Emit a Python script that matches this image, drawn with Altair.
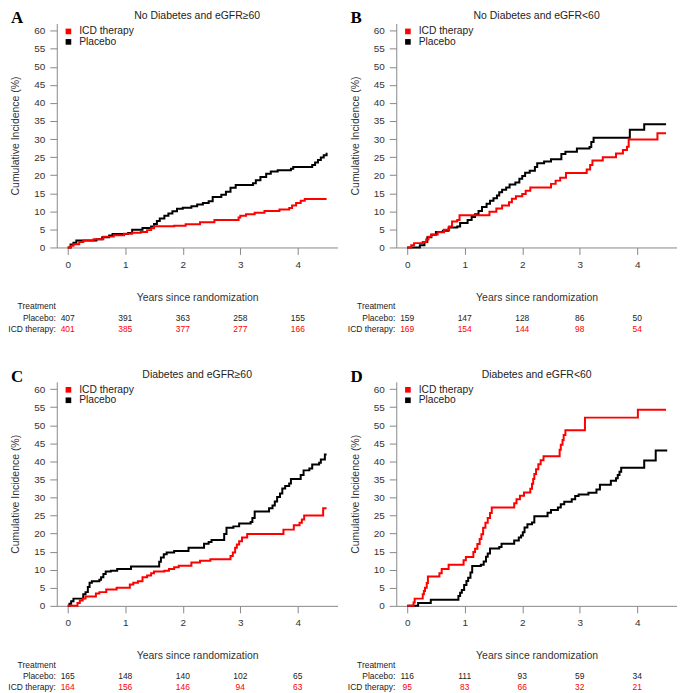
import altair as alt
import pandas as pd

# ---------------- data ----------------
YEARS = [0, 1, 2, 3, 4]
Y_TICKS = [0, 5, 10, 15, 20, 25, 30, 35, 40, 45, 50, 55, 60]

# Panel A: No Diabetes and eGFR>=60
A_PLC_T = [0, 0.05, 0.1, 0.15, 0.5, 0.6, 0.72, 0.78, 1.05, 1.12, 1.3, 1.45, 1.5, 1.55, 1.6, 1.68,
           1.75, 1.82, 1.9, 2.0, 2.15, 2.25, 2.35, 2.45, 2.52, 2.67, 2.75, 2.83, 2.92, 3.22, 3.27,
           3.35, 3.45, 3.53, 3.65, 3.88, 3.92, 4.25, 4.3, 4.35, 4.4, 4.45, 4.5]
A_PLC_V = [0, 0.8, 1.3, 1.9, 2.3, 2.8, 3.3, 3.7, 4.0, 4.9, 5.4, 5.8, 6.5, 7.3, 8.0, 8.8,
           9.4, 10.0, 10.7, 11.0, 11.4, 11.9, 12.3, 12.8, 14.0, 14.6, 15.4, 16.5, 17.3, 17.8, 18.6,
           19.5, 20.4, 21.0, 21.4, 21.8, 22.3, 22.8, 23.5, 24.2, 24.9, 25.5, 26.2]
A_ICD_T = [0, 0.05, 0.1, 0.2, 0.27, 0.45, 0.62, 0.8, 0.98, 1.12, 1.27, 1.38, 1.45, 1.5, 1.85,
           2.05, 2.3, 2.55, 2.97, 3.0, 3.1, 3.25, 3.42, 3.68, 3.85, 3.9, 3.97, 4.05, 4.12, 4.5]
A_ICD_V = [0, 0.5, 0.9, 1.5, 1.9, 2.3, 3.0, 3.4, 3.8, 4.1, 4.3, 4.8, 5.3, 5.9, 6.0,
           6.4, 7.0, 7.6, 8.3, 8.8, 9.2, 9.6, 10.1, 10.5, 10.9, 11.6, 12.3, 12.9, 13.4, 13.4]
A_PLC_N = [407, 391, 363, 258, 155]
A_ICD_N = [401, 385, 377, 277, 166]

# Panel B: No Diabetes and eGFR<60
B_PLC_T = [0, 0.22, 0.3, 0.35, 0.42, 0.5, 0.62, 0.72, 0.87, 0.92, 1.05, 1.12, 1.18, 1.24, 1.3,
           1.38, 1.44, 1.5, 1.56, 1.6, 1.65, 1.72, 1.78, 1.88, 1.95, 2.0, 2.05, 2.13, 2.22, 2.26,
           2.38, 2.5, 2.68, 2.75, 2.95, 3.17, 3.2, 3.24, 3.87, 4.12, 4.5]
B_PLC_V = [0, 0.6, 1.5, 2.8, 3.5, 4.3, 4.6, 5.5, 5.8, 6.8, 7.6, 8.4, 9.2, 10.1, 11.2,
           12.1, 12.9, 13.6, 14.4, 15.3, 16.0, 16.6, 17.4, 18.0, 19.0, 19.8, 20.7, 21.2, 22.3, 23.3,
           23.8, 24.4, 25.9, 26.5, 27.4, 27.8, 29.2, 30.4, 32.6, 34.1, 34.1]
B_ICD_T = [0, 0.07, 0.12, 0.27, 0.33, 0.37, 0.42, 0.53, 0.64, 0.73, 0.78, 0.87, 0.91, 1.43, 1.55,
           1.65, 1.77, 1.82, 1.89, 2.0, 2.06, 2.14, 2.5, 2.58, 2.66, 2.76, 3.12, 3.18, 3.22, 3.4,
           3.63, 3.75, 3.82, 3.85, 4.35, 4.5]
B_ICD_V = [0, 0.6, 1.2, 1.5, 2.2, 3.0, 3.6, 4.2, 4.9, 5.8, 7.2, 7.6, 8.9, 9.9, 10.8,
           11.6, 12.5, 13.5, 14.2, 14.8, 15.7, 16.6, 17.6, 18.5, 19.3, 20.6, 21.6, 22.8, 24.1, 25.0,
           26.0, 27.0, 27.9, 29.9, 31.6, 31.6]
B_PLC_N = [159, 147, 128, 86, 50]
B_ICD_N = [169, 154, 144, 98, 54]

# Panel C: Diabetes and eGFR>=60
C_PLC_T = [0, 0.03, 0.06, 0.1, 0.27, 0.31, 0.35, 0.38, 0.42, 0.55, 0.58, 0.62, 0.66, 0.75, 0.86,
           1.1, 1.59, 1.62, 1.67, 1.72, 1.85, 2.1, 2.37, 2.45, 2.5, 2.72, 2.76, 2.88, 2.98, 3.18,
           3.21, 3.25, 3.5, 3.56, 3.6, 3.64, 3.69, 3.73, 3.78, 3.85, 3.88, 4.05, 4.1, 4.2, 4.25,
           4.37, 4.4, 4.47, 4.5]
C_PLC_V = [0, 0.6, 1.3, 2.0, 3.2, 3.8, 5.2, 6.4, 6.8, 7.2, 7.9, 8.8, 9.5, 9.7, 10.2,
           10.9, 12.2, 13.4, 14.3, 14.8, 15.2, 16.1, 17.2, 17.7, 18.2, 19.9, 21.6, 22.0, 22.8, 23.2,
           24.3, 26.1, 27.0, 27.8, 28.9, 30.1, 31.1, 32.5, 33.2, 33.9, 35.1, 36.2, 37.5, 38.0, 39.1,
           39.6, 40.5, 41.9, 41.9]
C_ICD_T = [0, 0.17, 0.21, 0.26, 0.31, 0.49, 0.55, 0.67, 0.85, 1.08, 1.14, 1.22, 1.3, 1.38, 1.45,
           1.5, 1.68, 1.76, 1.85, 1.93, 2.15, 2.3, 2.48, 2.83, 2.87, 2.91, 2.94, 2.98, 3.03, 3.12,
           3.75, 3.93, 4.03, 4.07, 4.11, 4.44, 4.5]
C_ICD_V = [0, 0.8, 1.5, 2.0, 2.6, 3.4, 3.8, 4.5, 5.0, 5.9, 6.4, 6.8, 7.9, 8.4, 9.0,
           9.5, 9.7, 10.2, 10.7, 11.1, 12.0, 12.5, 12.9, 13.8, 14.8, 16.1, 17.0, 17.9, 18.9, 19.9,
           21.1, 22.3, 23.0, 23.9, 25.0, 27.0, 27.0]
C_PLC_N = [165, 148, 140, 102, 65]
C_ICD_N = [164, 156, 146, 94, 63]

# Panel D: Diabetes and eGFR<60
D_PLC_T = [0, 0.19, 0.41, 0.89, 0.92, 0.95, 0.99, 1.03, 1.06, 1.1, 1.13, 1.28, 1.33, 1.37, 1.4,
           1.44, 1.6, 1.64, 1.86, 1.94, 1.98, 2.01, 2.04, 2.09, 2.17, 2.21, 2.44, 2.5, 2.62, 2.67,
           2.73, 2.86, 2.92, 2.98, 3.15, 3.29, 3.35, 3.54, 3.63, 3.66, 3.69, 3.72, 4.12, 4.32, 4.52]
D_PLC_V = [0, 0.8, 1.7, 2.7, 3.6, 4.4, 5.8, 6.9, 7.8, 9.2, 11.0, 11.4, 12.3, 13.6, 14.5,
           15.9, 16.3, 17.2, 18.1, 18.9, 19.5, 20.4, 21.7, 22.6, 23.1, 24.8, 25.8, 26.5, 27.2, 28.1,
           28.8, 29.5, 30.4, 30.8, 31.3, 32.2, 33.5, 34.6, 35.3, 36.2, 37.1, 38.2, 40.2, 43.0, 43.0]
D_ICD_T = [0, 0.11, 0.13, 0.27, 0.29, 0.31, 0.34, 0.36, 0.56, 0.6, 0.72, 0.98, 1.02, 1.15, 1.18,
           1.22, 1.26, 1.29, 1.32, 1.36, 1.4, 1.44, 1.47, 1.86, 1.9, 1.96, 2.03, 2.14, 2.17, 2.19,
           2.21, 2.24, 2.28, 2.32, 2.37, 2.65, 2.67, 2.7, 2.72, 2.75, 3.09, 4.01, 4.5]
D_ICD_V = [0, 0.9, 2.0, 3.2, 4.1, 5.0, 6.3, 8.1, 9.0, 10.2, 11.4, 12.6, 13.5, 14.9, 15.8,
           17.1, 18.5, 19.8, 21.6, 23.0, 24.3, 25.7, 27.2, 28.4, 29.5, 30.5, 31.4, 32.4, 33.8, 35.1,
           36.5, 37.8, 39.2, 40.3, 41.4, 43.2, 44.6, 45.9, 47.3, 48.6, 52.1, 54.3, 54.3]
D_PLC_N = [116, 111, 93, 59, 34]
D_ICD_N = [95, 83, 66, 32, 21]

# ---------------- styling ----------------
RED = "#FF0000"
BLACK = "#000000"
FONT = "Liberation Sans"
SERIF = "Liberation Serif"
W, H = 282, 225
XDOM = [-0.19, 4.69]
YDOM = [0, 62]


def panel(letter, title, plc_t, plc_v, icd_t, icd_v, plc_n, icd_n):
    xs = alt.Scale(domain=XDOM, nice=False, zero=False)
    ys = alt.Scale(domain=YDOM, nice=False)
    xaxis = alt.Axis(values=YEARS, title="Years since randomization", tickSize=7,
                     labelPadding=5, titlePadding=23, labelFlush=False, format="d")
    yaxis = alt.Axis(values=Y_TICKS, title="Cumulative Incidence (%)", tickSize=7,
                     labelPadding=5, titlePadding=13)
    x = alt.X("t:Q", scale=xs, axis=xaxis)
    y = alt.Y("v:Q", scale=ys, axis=yaxis)

    plc = alt.Chart(pd.DataFrame({"t": plc_t, "v": plc_v})).mark_line(
        interpolate="step-after", color=BLACK, strokeWidth=2).encode(x=x, y=y)
    icd = alt.Chart(pd.DataFrame({"t": icd_t, "v": icd_v})).mark_line(
        interpolate="step-after", color=RED, strokeWidth=2).encode(x=x, y=y)

    def label(text, pos, font=FONT, **kw):
        enc = {k: alt.value(v) for k, v in pos.items()}
        return alt.Chart(pd.DataFrame({"label": [text]})).mark_text(font=font, **kw).encode(
            text="label:N", **enc)

    def square(color, ypx):
        return alt.Chart(pd.DataFrame({"label": ["key"]})).mark_square(
            size=32, color=color, opacity=1).encode(x=alt.value(11.7), y=alt.value(ypx))

    layers = [
        plc, icd,
        square(RED, 8), square(BLACK, 18.5),
        label("ICD therapy", {"x": 22.5, "y": 8}, align="left", baseline="middle",
              fontSize=10.3, color="#222"),
        label("Placebo", {"x": 22.5, "y": 18.5}, align="left", baseline="middle",
              fontSize=10.3, color="#222"),
        label(title, {"x": W / 2, "y": -7}, align="center", baseline="middle",
              fontSize=10.5, color="#222"),
        label(letter, {"x": -46, "y": 0}, font=SERIF, align="left", baseline="alphabetic",
              fontSize=17, fontWeight="bold", color="#000"),
        label("Treatment", {"x": -1, "y": H + 59}, align="right", baseline="middle",
              fontSize=8.5, color="#222"),
        label("Placebo:", {"x": -1, "y": H + 70.5}, align="right", baseline="middle",
              fontSize=8.5, color="#222"),
        label("ICD therapy:", {"x": -1, "y": H + 81.5}, align="right", baseline="middle",
              fontSize=8.5, color="#222"),
    ]
    for counts, col, ypx in ((plc_n, "#222", H + 70.5), (icd_n, RED, H + 81.5)):
        layers.append(
            alt.Chart(pd.DataFrame({"t": YEARS, "n": counts})).mark_text(
                font=FONT, fontSize=8.5, color=col, baseline="middle").encode(
                x=alt.X("t:Q", scale=xs, axis=xaxis), y=alt.value(ypx), text="n:Q"))
    return alt.layer(*layers).properties(width=W, height=H)


pa = panel("A", "No Diabetes and eGFR\u226560", A_PLC_T, A_PLC_V, A_ICD_T, A_ICD_V, A_PLC_N, A_ICD_N)
pb = panel("B", "No Diabetes and eGFR<60", B_PLC_T, B_PLC_V, B_ICD_T, B_ICD_V, B_PLC_N, B_ICD_N)
pc = panel("C", "Diabetes and eGFR\u226560", C_PLC_T, C_PLC_V, C_ICD_T, C_ICD_V, C_PLC_N, C_ICD_N)
pdd = panel("D", "Diabetes and eGFR<60", D_PLC_T, D_PLC_V, D_ICD_T, D_ICD_V, D_PLC_N, D_ICD_N)

chart = alt.vconcat(
    alt.hconcat(pa, pb, spacing=10),
    alt.hconcat(pc, pdd, spacing=10),
    spacing=35,
).properties(padding=0, background="white").configure_view(stroke=None).configure_axis(
    grid=False, domainColor="#888888", tickColor="#888888", labelColor="#333333",
    titleColor="#333333", labelFont=FONT, titleFont=FONT, labelFontSize=10,
    titleFontSize=10.5, titleFontWeight="normal", domainWidth=1, tickWidth=1,
)

chart.save("out.html", embed_options={"renderer": "svg", "actions": False})
